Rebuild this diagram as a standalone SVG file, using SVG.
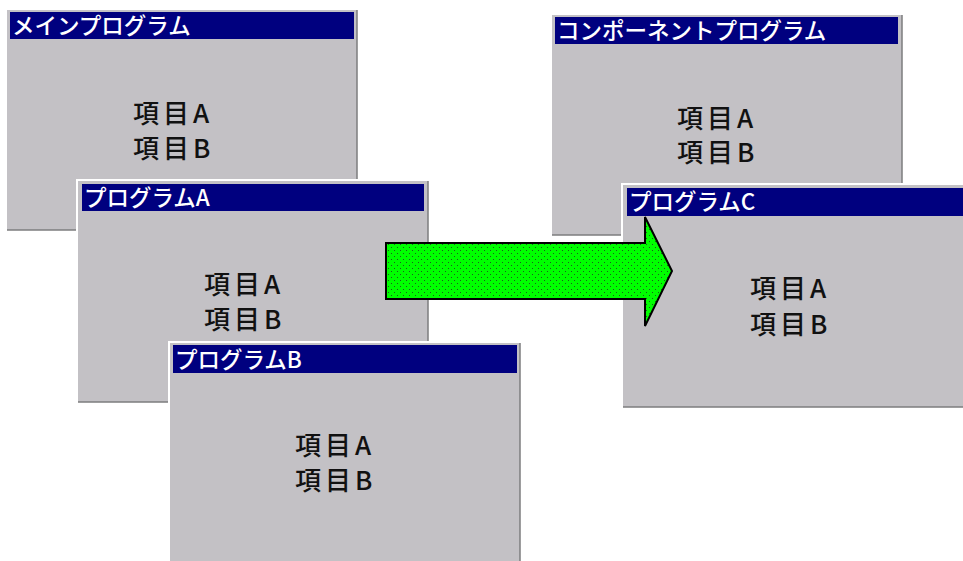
<svg xmlns="http://www.w3.org/2000/svg" width="963" height="561" viewBox="0 0 963 561">
  <style>
    .win { fill: #c3c1c5; }
    .hl { fill: none; stroke: #ffffff; stroke-width: 2; }
    .sh { fill: none; stroke: #7d7d7f; stroke-width: 1.5; }
    .tb { fill: #00007f; }
    .ttl { font-family: "Noto Sans CJK JP", "Liberation Sans", sans-serif; font-size: 22.5px; font-weight: 500; fill: #ffffff; }
    .itm { font-family: "Noto Sans CJK JP", "Liberation Sans", sans-serif; font-size: 26px; font-weight: 500; fill: #111111; letter-spacing: 4px; }
    .arrow { fill: url(#dots); stroke: #000000; stroke-width: 2; stroke-linejoin: miter; }
  </style>
  <defs>
    <pattern id="dots" x="0" y="0" width="6" height="6" patternUnits="userSpaceOnUse">
      <rect width="6" height="6" fill="#00ff00"/>
      <rect x="1" y="1" width="1" height="1" fill="#1f5a1f"/>
      <rect x="4" y="4" width="1" height="1" fill="#1f5a1f"/>
    </pattern>
  </defs>
  <rect width="963" height="561" fill="#ffffff"/>

  <g id="main-program" transform="translate(7,10)">
    <rect class="win" width="350" height="220"/>
    <path class="hl" d="M-1,221 V-1 H351"/>
    <path class="sh" d="M350,0 V220 H0"/>
    <rect class="tb" x="3" y="2" width="344" height="27"/>
    <text class="ttl" x="5" y="24">メインプログラム</text>
    <text class="itm" x="126" y="113">項目A</text>
    <text class="itm" x="126" y="148">項目B</text>
  </g>

  <g id="program-a" transform="translate(78,181)">
    <rect class="win" width="350" height="221"/>
    <path class="hl" d="M-1,222 V-1 H351"/>
    <path class="sh" d="M350,0 V221 H0"/>
    <rect class="tb" x="4" y="3" width="342" height="27"/>
    <text class="ttl" x="6" y="25">プログラムA</text>
    <text class="itm" x="126" y="113">項目A</text>
    <text class="itm" x="126" y="148">項目B</text>
  </g>

  <g id="program-b" transform="translate(170,343)">
    <rect class="win" width="350" height="222"/>
    <path class="hl" d="M-1,223 V-1 H351"/>
    <path class="sh" d="M350,0 V222 H0"/>
    <rect class="tb" x="3" y="2" width="344" height="28"/>
    <text class="ttl" x="5" y="25">プログラムB</text>
    <text class="itm" x="125" y="112">項目A</text>
    <text class="itm" x="125" y="147">項目B</text>
  </g>

  <g id="component-program" transform="translate(552,15)">
    <rect class="win" width="350" height="220"/>
    <path class="hl" d="M-1,221 V-1 H351"/>
    <path class="sh" d="M350,0 V220 H0"/>
    <rect class="tb" x="3" y="2" width="343" height="27"/>
    <text class="ttl" x="5" y="24">コンポーネントプログラム</text>
    <text class="itm" x="125" y="113">項目A</text>
    <text class="itm" x="125" y="147">項目B</text>
  </g>

  <g id="program-c" transform="translate(623,185)">
    <rect class="win" width="350" height="222"/>
    <path class="hl" d="M-1,223 V-1 H351"/>
    <path class="sh" d="M350,0 V222 H0"/>
    <rect class="tb" x="4" y="3" width="344" height="28"/>
    <text class="ttl" x="6" y="25">プログラムC</text>
    <text class="itm" x="127" y="113">項目A</text>
    <text class="itm" x="127" y="149">項目B</text>
  </g>

  <g id="connectors">
    <path class="arrow" d="M386,243 H645 V217 L672,271 L645,326 V299 H386 Z"/>
  </g>
</svg>
